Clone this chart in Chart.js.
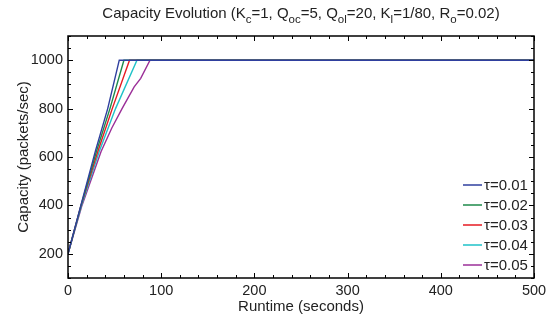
<!DOCTYPE html>
<html>
<head>
<meta charset="utf-8">
<title>Capacity Evolution</title>
<script src="https://cdn.jsdelivr.net/npm/chart.js@4.4.1/dist/chart.umd.min.js"></script>
<style>
  html, body { margin: 0; padding: 0; background: #fff; }
  #wrap { width: 559px; height: 316px; }
</style>
</head>
<body>
<div id="wrap"><canvas id="capacityChart" width="559" height="316"></canvas></div>
<script>
// series data (runtime in s, capacity in packets/sec)
const tauLabels = ['\u03c4=0.01', '\u03c4=0.02', '\u03c4=0.03', '\u03c4=0.04', '\u03c4=0.05'];
const tauColors = ['#2f3f9f', '#1e8a4a', '#e61a22', '#1fc2c8', '#9b2f98'];

const runtime01 = [0, 13.8, 29.3, 42.6, 55, 500];
const capacity01 = [200, 400, 623, 800, 1000, 1000];
const runtime02 = [0, 14, 30.5, 45, 60, 500];
const capacity02 = [200, 400, 623, 800, 1000, 1000];
const runtime03 = [0, 14, 32, 47.5, 66, 500];
const capacity03 = [200, 400, 623, 800, 1000, 1000];
const runtime04 = [0, 14.5, 33.5, 51, 74, 500];
const capacity04 = [200, 400, 623, 800, 1000, 1000];
const runtime05 = [0, 15, 35.5, 47, 58, 71, 78, 88, 500];
const capacity05 = [200, 400, 623, 720, 800, 890, 925, 1000, 1000];

const xTicks = [0, 100, 200, 300, 400, 500];
const yTicks = [200, 400, 600, 800, 1000];

const FONT = "'Liberation Sans', Arial, Helvetica, sans-serif";
Chart.defaults.font.family = FONT;
Chart.defaults.color = '#222';

const toPoints = (xs, ys) => xs.map((x, i) => ({ x: x, y: ys[i] }));
const seriesX = [runtime01, runtime02, runtime03, runtime04, runtime05];
const seriesY = [capacity01, capacity02, capacity03, capacity04, capacity05];

// title with subscripts
const titleParts = [
    ['Capacity Evolution (K', 0], ['c', 1], ['=1, Q', 0], ['oc', 1], ['=5, Q', 0], ['ol', 1],
    ['=20, K', 0], ['l', 1], ['=1/80, R', 0], ['o', 1], ['=0.02)', 0]
];

const framePlugin = {
    id: 'frame',
    afterDraw(chart) {
        const ctx = chart.ctx;
        const a = chart.chartArea;
        const xs = chart.scales.x, ys = chart.scales.y;
        ctx.save();
        ctx.strokeStyle = '#000';
        ctx.lineWidth = 1.5;
        ctx.strokeRect(a.left, a.top, a.right - a.left, a.bottom - a.top);
        ctx.lineWidth = 1;
        ctx.beginPath();
        // x ticks, minor every 20
        for (let v = xs.min; v <= xs.max; v += 20) {
            const px = Math.round(xs.getPixelForValue(v)) + 0.5;
            const len = v % 100 === 0 ? 5 : 3;
            ctx.moveTo(px, a.bottom); ctx.lineTo(px, a.bottom - len);
            ctx.moveTo(px, a.top); ctx.lineTo(px, a.top + len);
        }
        // y ticks, minor every 50
        for (let v = ys.min; v <= ys.max; v += 50) {
            const py = Math.round(ys.getPixelForValue(v)) + 0.5;
            const len = v % 200 === 0 ? 5 : 3;
            ctx.moveTo(a.left, py); ctx.lineTo(a.left + len, py);
            ctx.moveTo(a.right, py); ctx.lineTo(a.right - len, py);
        }
        ctx.stroke();

        // legend, bottom right inside the plot
        ctx.font = '15px ' + FONT;
        ctx.textBaseline = 'middle';
        ctx.textAlign = 'left';
        chart.data.datasets.forEach((ds, i) => {
            const y = a.bottom - 13 - (chart.data.datasets.length - 1 - i) * 20;
            ctx.strokeStyle = ds.borderColor;
            ctx.lineWidth = 1.5;
            ctx.beginPath();
            ctx.moveTo(a.right - 71, y); ctx.lineTo(a.right - 52, y);
            ctx.stroke();
            ctx.fillStyle = '#222';
            ctx.fillText(ds.label, a.right - 50, y + 1);
        });

        // title
        let total = 0;
        titleParts.forEach(p => {
            ctx.font = (p[1] ? '11.5px ' : '15px ') + FONT;
            total += ctx.measureText(p[0]).width;
        });
        let x = (a.left + a.right) / 2 - total / 2;
        ctx.textBaseline = 'alphabetic';
        ctx.fillStyle = '#222';
        titleParts.forEach(p => {
            ctx.font = (p[1] ? '11.5px ' : '15px ') + FONT;
            ctx.fillText(p[0], x, p[1] ? 23 : 18);
            x += ctx.measureText(p[0]).width;
        });
        ctx.restore();
    }
};

const ctx = document.getElementById('capacityChart').getContext('2d');
const capacityChart = new Chart(ctx, {
    type: 'line',
    data: {
        datasets: tauLabels.map((label, i) => ({
            label: label,
            data: toPoints(seriesX[i], seriesY[i]),
            borderColor: tauColors[i],
            backgroundColor: tauColors[i],
            borderWidth: 1.4,
            pointRadius: 0,
            tension: 0,
            fill: false
        }))
    },
    options: {
        responsive: false,
        animation: false,
        layout: { padding: { top: 36, right: 25, left: 0, bottom: 0 } },
        plugins: {
            legend: { display: false },
            title: { display: false },
            tooltip: { enabled: false }
        },
        scales: {
            x: {
                type: 'linear',
                min: 0,
                max: 500,
                afterBuildTicks: scale => { scale.ticks = xTicks.map(v => ({ value: v })); },
                afterFit: scale => { scale.height = 38; },
                grid: { display: false, drawTicks: false },
                border: { display: false },
                ticks: { font: { size: 14.5 }, padding: 4, maxRotation: 0, callback: v => String(v) },
                title: {
                    display: true,
                    text: 'Runtime (seconds)',
                    font: { size: 15 },
                    padding: { top: 0, bottom: 0 }
                }
            },
            y: {
                type: 'linear',
                min: 100,
                max: 1100,
                afterBuildTicks: scale => { scale.ticks = yTicks.map(v => ({ value: v })); },
                afterFit: scale => { scale.width = 68; },
                grid: { display: false, drawTicks: false },
                border: { display: false },
                ticks: { font: { size: 14.5 }, padding: 5, callback: v => String(v) },
                title: {
                    display: true,
                    text: 'Capacity (packets/sec)',
                    font: { size: 15 },
                    padding: { top: 15, bottom: 0 }
                }
            }
        }
    },
    plugins: [framePlugin]
});
</script>
</body>
</html>
